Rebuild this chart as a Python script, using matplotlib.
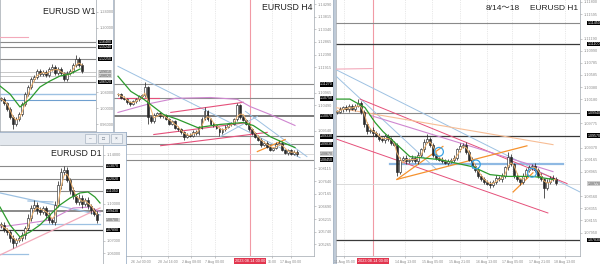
import numpy as np
import pandas as pd
import matplotlib
matplotlib.use('Agg')
import matplotlib.pyplot as plt
import matplotlib.transforms as mtransforms
from matplotlib.patches import Rectangle
from matplotlib.ticker import FixedLocator, MaxNLocator, FormatStrFormatter

plt.rcParams['font.family'] = ['Liberation Sans', 'Noto Sans CJK JP', 'DejaVu Sans']

# ---------------- data ----------------
# W1 (weekly)
w1_close = [1.0229, 1.0129, 0.9980, 0.9781, 0.9607, 0.9731, 0.9856, 1.0104, 1.0354, 1.0528,
            1.0727, 1.0777, 1.0926, 1.0852, 1.0901, 1.0827, 1.0976, 1.1026, 1.0876, 1.0976,
            1.0876, 1.0727, 1.0876, 1.0926, 1.1076, 1.1225, 1.1076, 1.0926]
w1_up = [40, 50, 30, 40, 50, 40, 60, 40, 50, 60, 40, 50, 50, 40, 50, 40, 60, 75, 40, 50,
         40, 30, 50, 40, 60, 100, 40, 50]
w1_lo = [50, 40, 60, 50, 125, 40, 50, 60, 40, 50, 60, 40, 50, 40, 50, 60, 40, 50, 40, 50,
         60, 50, 40, 50, 40, 50, 60, 40]
w1_ma_x = [-0.33, 3, 6.33, 9.67, 13, 16.33, 19.67, 23, 26.33]
w1_ma_y = [1.0553, 1.0354, 1.0030, 1.0229, 1.0528, 1.0677, 1.0802, 1.0852, 1.0976]
w1_levels = [1.1648, 1.1524, 1.1225, 1.0652]
w1_levels_light = [1.0901, 1.0802]
w1_blue = [1.0354, 1.0204]
w1_pink = [(-0.3, 1.1773, 9.0, 1.1773)]

# D1 (daily)
d1_close = [1.0830, 1.0789, 1.0773, 1.0724, 1.0684, 1.0708, 1.0724, 1.0749, 1.0805, 1.0886,
            1.0967, 1.0992, 1.0951, 1.0935, 1.0967, 1.0911, 1.0870, 1.0854, 1.0992, 1.1154,
            1.1259, 1.1275, 1.1194, 1.1113, 1.1064, 1.1016, 1.1048, 1.1000, 1.1032, 1.0983,
            1.0951, 1.0919, 1.0870]
d1_up = [20, 25, 15, 20, 25, 20, 15, 25, 20, 30, 25, 40, 20, 25, 20, 15, 25, 20, 30, 35,
         32, 30, 25, 20, 25, 20, 30, 25, 20, 25, 20, 15, 20]
d1_lo = [25, 20, 25, 30, 40, 25, 20, 25, 30, 20, 25, 20, 30, 25, 20, 30, 25, 20, 25, 20,
         30, 25, 20, 30, 25, 20, 25, 30, 20, 25, 30, 20, 25]
d1_ma_x = [-0.33, 3, 6.33, 9.67, 13, 16.33, 19.67, 23, 26.33, 29, 31.33, 33]
d1_ma_y = [1.0975, 1.0830, 1.0732, 1.0773, 1.0830, 1.0911, 1.0992, 1.1048, 1.1089, 1.1097,
           1.1056, 1.1008]
d1_purple_x = [-0.33, 9.7, 16.3, 24, 29.7, 33]
d1_purple_y = [1.0813, 1.0846, 1.0870, 1.0967, 1.0975, 1.0935]
d1_levels = [1.1307, 1.1202, 1.1105]
d1_level_main = 1.0943
d1_level_dark = 1.0789
d1_blue_lines = [(12, 1.0838, 33, 1.0838), (-0.3, 1.0595, 9, 1.0595),
                 (9, 1.1024, 17.3, 1.1016), (-0.3, 1.1089, 33, 1.0911)]
d1_pink_lines = [(-0.3, 1.0587, 33, 1.0967)]

# H4
h4_close = [1.1090, 1.1078, 1.1071, 1.1060, 1.1052, 1.1063, 1.1071, 1.1082, 1.1086, 1.1116,
            1.1003, 1.0988, 1.1014, 1.1018, 1.1007, 1.1011, 1.0996, 1.0980, 1.0988, 1.0965,
            1.0958, 1.0947, 1.0931, 1.0939, 1.0935, 1.0950, 1.0943, 1.0965, 1.0996, 1.1026,
            1.0996, 1.0980, 1.0973, 1.0965, 1.0947, 1.0958, 1.0969, 1.0977, 1.0980, 1.0996,
            1.1048, 1.1003, 1.0992, 1.0980, 1.0958, 1.0943, 1.0931, 1.0920, 1.0901, 1.0909,
            1.0894, 1.0882, 1.0890, 1.0905, 1.0909, 1.0882, 1.0871, 1.0879, 1.0867, 1.0875,
            1.0864]
h4_up = [5, 4, 6, 5, 4, 6, 5, 4, 5, 19, 6, 5, 4, 6, 5, 4, 6, 5, 4, 6,
         5, 4, 6, 5, 4, 6, 5, 6, 8, 15, 5, 4, 6, 5, 4, 6, 5, 4, 6, 5,
         11, 6, 5, 4, 6, 5, 4, 6, 5, 4, 6, 5, 4, 6, 11, 5, 4, 6, 5, 4, 5]
h4_lo = [5, 6, 4, 5, 6, 4, 5, 6, 4, 5, 26, 6, 5, 4, 6, 5, 4, 6, 5, 4,
         6, 5, 11, 4, 6, 5, 4, 6, 5, 4, 6, 5, 4, 6, 15, 5, 4, 6, 5, 4,
         6, 5, 4, 6, 5, 4, 6, 5, 8, 4, 6, 5, 4, 6, 5, 4, 6, 8, 5, 4, 6]
h4_ma_x = [0, 4.3, 8.7, 15.3, 20, 26.7, 34.3, 42, 45.3, 51, 55.3, 59.3]
h4_ma_y = [1.1158, 1.1101, 1.1071, 1.1014, 1.0996, 1.0965, 1.0977, 1.0984, 1.0973, 1.0931,
           1.0909, 1.0890]
h4_purple_x = [0, 11, 19.3, 31, 40, 44.3, 51, 59.3]
h4_purple_y = [1.1022, 1.1056, 1.1075, 1.1078, 1.1071, 1.1044, 1.1014, 1.0973]
h4_levels = [1.1127, 1.1075, 1.0933, 1.0903, 1.0845]
h4_level_main = 1.1007
h4_last = 1.0867
h4_blue_lines = [(0, 1.1195, 61, 1.0852), (34.3, 1.0931, 46.7, 1.1007),
                 (42.7, 1.1026, 63.3, 1.0856)]
h4_red_lines = [(17.7, 1.1022, 42, 1.1060), (12, 1.0939, 43.3, 1.0984),
                (14.3, 1.0897, 50, 1.0947), (0, 1.1078, 13.7, 1.1078)]
h4_orange_lines = [(46.7, 1.0875, 56, 1.0920)]
h4_event = 44.33
h4_ticks = [1.14290, 1.13815, 1.13340, 1.12865, 1.12390, 1.11915, 1.11440, 1.10965,
            1.10490, 1.10015, 1.09540, 1.09065, 1.08590, 1.08115, 1.07640, 1.07165,
            1.06690, 1.06215, 1.05740, 1.05265]
# the label right of the red date box is half covered in the screenshot: only its time shows
h4_dates = ['26 Jul 00:00', '28 Jul 16:00', '2 Aug 08:00', '7 Aug 00:00', '16:00',
            '17 Aug 00:00']
h4_date_pos = [7.7, 16.7, 24.5, 32.5, 51.7, 57.8]

# H1
h1_close = [1.0997, 1.1001, 1.1004, 1.1001, 1.1006, 1.1002, 1.1007, 1.1011, 1.0997, 1.0976,
            1.0964, 1.0967, 1.0961, 1.0957, 1.0952, 1.0949, 1.0956, 1.0951, 1.0945, 1.0942,
            1.0897, 1.0917, 1.0920, 1.0914, 1.0917, 1.0920, 1.0914, 1.0925, 1.0934, 1.0947,
            1.0951, 1.0942, 1.0925, 1.0920, 1.0917, 1.0915, 1.0912, 1.0914, 1.0917, 1.0920,
            1.0934, 1.0940, 1.0942, 1.0930, 1.0917, 1.0907, 1.0900, 1.0890, 1.0884, 1.0880,
            1.0877, 1.0875, 1.0880, 1.0887, 1.0884, 1.0890, 1.0904, 1.0922, 1.0909, 1.0890,
            1.0884, 1.0880, 1.0890, 1.0900, 1.0904, 1.0907, 1.0900, 1.0890, 1.0884, 1.0870,
            1.0880, 1.0887, 1.0885, 1.0878]
h1_up = [3, 4, 3, 4, 3, 4, 3, 7, 4, 3, 4, 3, 4, 3, 4, 3, 4, 3, 4, 3,
         3, 4, 3, 4, 3, 4, 3, 4, 3, 4, 8, 4, 3, 4, 3, 4, 3, 4, 3, 4,
         3, 4, 3, 4, 3, 4, 3, 4, 3, 4, 3, 4, 3, 4, 3, 4, 3, 7, 4, 3,
         4, 3, 4, 3, 4, 3, 4, 3, 4, 3, 4, 3, 4, 3]
h1_lo = [4, 3, 4, 3, 4, 3, 4, 3, 4, 5, 4, 3, 4, 3, 4, 3, 4, 3, 4, 3,
         8, 4, 3, 4, 3, 4, 3, 4, 3, 4, 3, 4, 3, 4, 3, 4, 3, 4, 3, 4,
         3, 4, 3, 4, 3, 4, 3, 4, 3, 4, 3, 5, 3, 4, 3, 4, 3, 4, 3, 4,
         3, 5, 3, 4, 3, 4, 3, 4, 3, 17, 3, 4, 3, 4]
h1_ma_x = [-0.7, 4.3, 9.3, 12.7, 15.3, 20, 24.3, 34.3, 45.3, 51, 56.7, 65.3, 72]
h1_ma_y = [1.1018, 1.1018, 1.1004, 1.0979, 1.0964, 1.0942, 1.0922, 1.0917, 1.0905, 1.0892,
           1.0889, 1.0889, 1.0884]
h1_levels = [1.1145, 1.0994]
h1_levels_dark = [1.1110, 1.0957, 1.0783]
h1_last = 1.0877
h1_blue_lines = [(-0.7, 1.1068, 81, 1.0863), (-0.7, 1.1058, 33.3, 1.0900)]
h1_pink_lines = [(7.7, 1.1018, 76.7, 1.0877), (0, 1.0951, 70.3, 1.0828)]
h1_lpink_lines = [(-0.7, 1.1068, 11.7, 1.1069)]
h1_purple_lines = [(11, 1.0991, 72, 1.0897)]
h1_salmon_lines = [(-0.7, 1.1004, 72, 1.0942)]
h1_orange_lines = [(20, 1.0884, 63.3, 1.0940), (20, 1.0884, 35.3, 1.0939),
                   (58.7, 1.0863, 65.3, 1.0895)]
h1_zone = (17.7, 75.3, 1.0910)
h1_circle_x = [34, 46.3, 65]
h1_circle_y = [1.0930, 1.0909, 1.0895]
h1_event = 12
h1_ticks = [1.07750, 1.07950, 1.08155, 1.08355, 1.08560, 1.08760, 1.08965, 1.09165,
            1.09370, 1.09570, 1.09775, 1.09975, 1.10180, 1.10380, 1.10585, 1.10785,
            1.10990, 1.11190, 1.11395, 1.11595, 1.11800]
h1_dates = ['11 Aug 05:00', '14 Aug 13:00', '15 Aug 05:00', '15 Aug 21:00', '16 Aug 13:00',
            '17 Aug 05:00', '17 Aug 21:00', '18 Aug 13:00']
h1_date_pos = [2.5, 22.7, 31.7, 41, 50, 58.5, 67.5, 76]
event_label = '2023.08.14 00:00'

# ---------------- colours ----------------
CANDLE = '#2a2a2a'
GREEN = '#2c9a2c'
FAST = '#f2b56f'
LEVEL = '#8a8a8a'
DARK = '#3a3a3a'
BLUE = '#9dc1e2'
PINK = '#e5507a'
LPINK = '#f3a9ba'
PURPLE = '#cf86d0'
ORANGE = '#f5922e'
SALMON = '#f7bd95'
EVENT = '#f19aa5'
FRAME = '#bfcad7'

W, H = 600, 264
fig = plt.figure(figsize=(6, 2.64), dpi=100, facecolor=FRAME)


def px_axes(x0, y0, x1, y1, z):
    ax = fig.add_axes([x0 / W, 1 - y1 / H, (x1 - x0) / W, (y1 - y0) / H])
    ax.set_zorder(z)
    return ax


def box(x0, y0, x1, y1, z, fc='white', ec='#a8b6c6'):
    ax = px_axes(x0, y0, x1, y1, z)
    ax.set_facecolor(fc)
    ax.set_xticks([])
    ax.set_yticks([])
    for s in ax.spines.values():
        s.set_color(ec)
        s.set_linewidth(0.6)
    return ax


def setup(ax, xlim, ylim):
    ax.set_xlim(*xlim)
    ax.set_ylim(*ylim)
    ax.set_facecolor('white')
    ax.yaxis.tick_right()
    ax.tick_params(labelsize=2.8, labelcolor='#8c8c8c', length=1.5, width=0.4,
                   color='#a0a0a0', pad=1.2)
    ax.yaxis.set_major_formatter(FormatStrFormatter('%.5f'))
    for s in ax.spines.values():
        s.set_color('#a0a6ae')
        s.set_linewidth(0.5)


def price_ticks(ax, ticks, tagged, px):
    # price labels hidden under the black level tags are left out
    keep = [t for t in ticks if all(abs(t - p) > 5 * px for p in tagged)]
    ax.yaxis.set_major_locator(FixedLocator(keep))


def candles(ax, close, up, lo, px):
    c = np.asarray(close, float)
    o = np.r_[c[0], c[:-1]]
    x = np.arange(len(c))
    top = np.maximum(o, c)
    bot = np.minimum(o, c)
    ax.vlines(x, bot - np.asarray(lo) * 1e-4, top + np.asarray(up) * 1e-4,
              color=CANDLE, lw=0.55, zorder=4)
    h = np.maximum(top - bot, px * 0.7)
    bull = c >= o
    ax.bar(x[bull], h[bull], bottom=bot[bull], width=0.62, color='white',
           edgecolor=CANDLE, linewidth=0.45, zorder=5)
    ax.bar(x[~bull], h[~bull], bottom=bot[~bull], width=0.62, color=CANDLE,
           edgecolor=CANDLE, linewidth=0.45, zorder=5)
    fast = pd.Series(c).rolling(3, min_periods=1).mean()
    ax.plot(x, fast, color=FAST, lw=0.7, zorder=6)


def seglines(ax, segs, color, lw=0.7, z=3):
    for x0, p0, x1, p1 in segs:
        ax.plot([x0, x1], [p0, p1], color=color, lw=lw, zorder=z)


def tag(ax, price, fc='black', tc='white'):
    ax.text(1.03, price, f'{price:.5f}', transform=ax.get_yaxis_transform(),
            fontsize=2.6, color=tc, ha='left', va='center', clip_on=False, zorder=20,
            bbox=dict(boxstyle='square,pad=0.12', fc=fc, ec='none'))


def date_axis(ax, pos, labels, event_x):
    ax.set_xticks(pos)
    ax.set_xticklabels(labels, fontsize=2.6)
    ax.grid(axis='x', color='#d6d6d6', lw=0.4, ls=(0, (2, 2)))
    ax.axvline(event_x, color=EVENT, lw=0.8, zorder=2)
    trans = mtransforms.blended_transform_factory(ax.transData, ax.transAxes)
    ax.text(event_x, -0.012, event_label, transform=trans, fontsize=2.8, color='white',
            ha='center', va='top', clip_on=False, zorder=20,
            bbox=dict(boxstyle='square,pad=0.25', fc='#e2364f', ec='none'))


# ---------------- W1 ----------------
box(0, -2, 113, 132, 1)
ax = px_axes(0, -1, 96, 131, 2)
setup(ax, (-0.33, 31.67), (0.9432, 1.2719))
w1_tagged = w1_levels + w1_levels_light
price_ticks(ax, MaxNLocator(10).tick_values(0.9432, 1.2719), w1_tagged, 0.00249)
ax.set_xticks([])
for p in w1_levels:
    ax.axhline(p, color=LEVEL, lw=0.8, zorder=2)
    tag(ax, p)
for p in w1_levels_light:
    ax.axhline(p, color='#c8c8c8', lw=0.7, zorder=2)
    tag(ax, p, fc='#d9d9d9', tc='#444444')
ax.axhline(w1_blue[0], color=BLUE, lw=1.0, zorder=2)
ax.axhline(w1_blue[1], color='#6f9fcf', lw=0.8, zorder=2)
seglines(ax, w1_pink, LPINK, lw=0.8)
candles(ax, w1_close, w1_up, w1_lo, 0.00249)
ax.plot(w1_ma_x, w1_ma_y, color=GREEN, lw=0.9, zorder=6)
ax.text(0.99, 0.94, 'EURUSD W1', transform=ax.transAxes, ha='right', va='top',
        fontsize=6.3, color='#222222', zorder=20)

# ---------------- H4 ----------------
box(113, -2, 333, 266, 1)
ax = px_axes(114, -1, 314, 256, 2)
setup(ax, (-1.33, 65.67), (1.04828, 1.14479))
price_ticks(ax, h4_ticks, h4_levels + [h4_level_main, h4_last], 0.000377)
date_axis(ax, h4_date_pos, h4_dates, h4_event)
for p in h4_levels:
    ax.axhline(p, color=LEVEL, lw=0.8, zorder=2)
    tag(ax, p)
ax.axhline(h4_level_main, color='#7a7a7a', lw=1.4, zorder=2)
tag(ax, h4_level_main)
ax.axhline(h4_last, color='#d5d5d5', lw=0.6, zorder=2)
tag(ax, h4_last, fc='#cfcfcf', tc='#555555')
seglines(ax, h4_blue_lines, BLUE, lw=0.7)
seglines(ax, h4_red_lines, PINK, lw=0.8)
seglines(ax, h4_orange_lines, ORANGE, lw=0.9)
ax.plot(h4_purple_x, h4_purple_y, color=PURPLE, lw=0.8, zorder=3)
candles(ax, h4_close, h4_up, h4_lo, 0.000377)
ax.plot(h4_ma_x, h4_ma_y, color=GREEN, lw=0.9, zorder=6)
ax.text(0.995, 0.985, 'EURUSD H4', transform=ax.transAxes, ha='right', va='top',
        fontsize=6.3, color='#222222', zorder=20)

# ---------------- H1 ----------------
box(336, -2, 602, 266, 1)
ax = px_axes(336, -1, 580, 256, 2)
setup(ax, (-0.33, 81), (1.07562, 1.1185))
price_ticks(ax, h1_ticks, h1_levels + h1_levels_dark + [h1_last], 0.0001675)
date_axis(ax, h1_date_pos, h1_dates, h1_event)
for p in h1_levels:
    ax.axhline(p, color=LEVEL, lw=0.8, zorder=2)
    tag(ax, p)
for p in h1_levels_dark:
    ax.axhline(p, color=DARK, lw=0.9, zorder=2)
    tag(ax, p)
ax.axhline(h1_last, color='#d5d5d5', lw=0.6, zorder=2)
tag(ax, h1_last, fc='#cfcfcf', tc='#555555')
ax.plot([h1_zone[0], h1_zone[1]], [h1_zone[2], h1_zone[2]], color='#8fb9e3', lw=1.6, zorder=3)
seglines(ax, h1_blue_lines, BLUE, lw=0.7)
seglines(ax, h1_pink_lines, PINK, lw=0.7)
seglines(ax, h1_lpink_lines, LPINK, lw=0.8)
seglines(ax, h1_purple_lines, PURPLE, lw=0.8)
seglines(ax, h1_salmon_lines, SALMON, lw=0.8)
seglines(ax, h1_orange_lines, ORANGE, lw=0.9)
candles(ax, h1_close, h1_up, h1_lo, 0.0001675)
ax.plot(h1_ma_x, h1_ma_y, color=GREEN, lw=0.9, zorder=6)
ax.scatter(h1_circle_x, h1_circle_y, s=40, facecolors='none', edgecolors='#3aa3e6',
           linewidths=0.9, zorder=8)
ax.text(0.992, 0.977, 'EURUSD H1', transform=ax.transAxes, ha='right', va='top',
        fontsize=6.0, color='#222222', zorder=20)
ax.text(0.755, 0.977, '8/14〜18', transform=ax.transAxes, ha='right', va='top',
        fontsize=6.0, color='#222222', zorder=20)

# ---------------- D1 window (floats over the H4 chart) ----------------
box(-2, 132, 126, 266, 5, fc='white', ec='#9fb2c8')
bar = box(-2, 132, 126, 145, 6, fc='#e3e8ee', ec='#9fb2c8')
bar.set_xlim(0, 128)
bar.set_ylim(0, 13)
for bx, sym in [(87, '–'), (100, '□'), (113, '×')]:
    bar.add_patch(Rectangle((bx, 2.2), 11, 8.6, fc='#eef1f5', ec='#a9b5c3', lw=0.5))
    bar.text(bx + 5.5, 6.5, sym, ha='center', va='center', fontsize=3.5, color='#6a7686')
ax = px_axes(0, 145, 103, 264, 7)
setup(ax, (-0.33, 34), (1.05136, 1.14775))
d1_tagged = d1_levels + [d1_level_main, d1_level_dark, d1_close[-1]]
price_ticks(ax, MaxNLocator(10).tick_values(1.05136, 1.14775), d1_tagged, 0.00081)
ax.set_xticks([])
ax.spines['bottom'].set_visible(False)
ax.spines['left'].set_visible(False)
for p in d1_levels:
    ax.axhline(p, color=LEVEL, lw=0.8, zorder=2)
    tag(ax, p)
ax.axhline(d1_level_main, color='#8a8a8a', lw=1.4, zorder=2)
tag(ax, d1_level_main)
ax.axhline(d1_level_dark, color=DARK, lw=0.9, zorder=2)
tag(ax, d1_level_dark)
tag(ax, d1_close[-1], fc='#cfcfcf', tc='#555555')
seglines(ax, d1_blue_lines, BLUE, lw=0.9)
seglines(ax, d1_pink_lines, LPINK, lw=0.9)
ax.plot(d1_purple_x, d1_purple_y, color=PURPLE, lw=0.8, zorder=3)
candles(ax, d1_close, d1_up, d1_lo, 0.00081)
ax.plot(d1_ma_x, d1_ma_y, color=GREEN, lw=0.9, zorder=6)
ax.text(0.99, 0.965, 'EURUSD D1', transform=ax.transAxes, ha='right', va='top',
        fontsize=6.3, color='#222222', zorder=20)

fig.savefig('out.png', dpi=100, facecolor=fig.get_facecolor())
